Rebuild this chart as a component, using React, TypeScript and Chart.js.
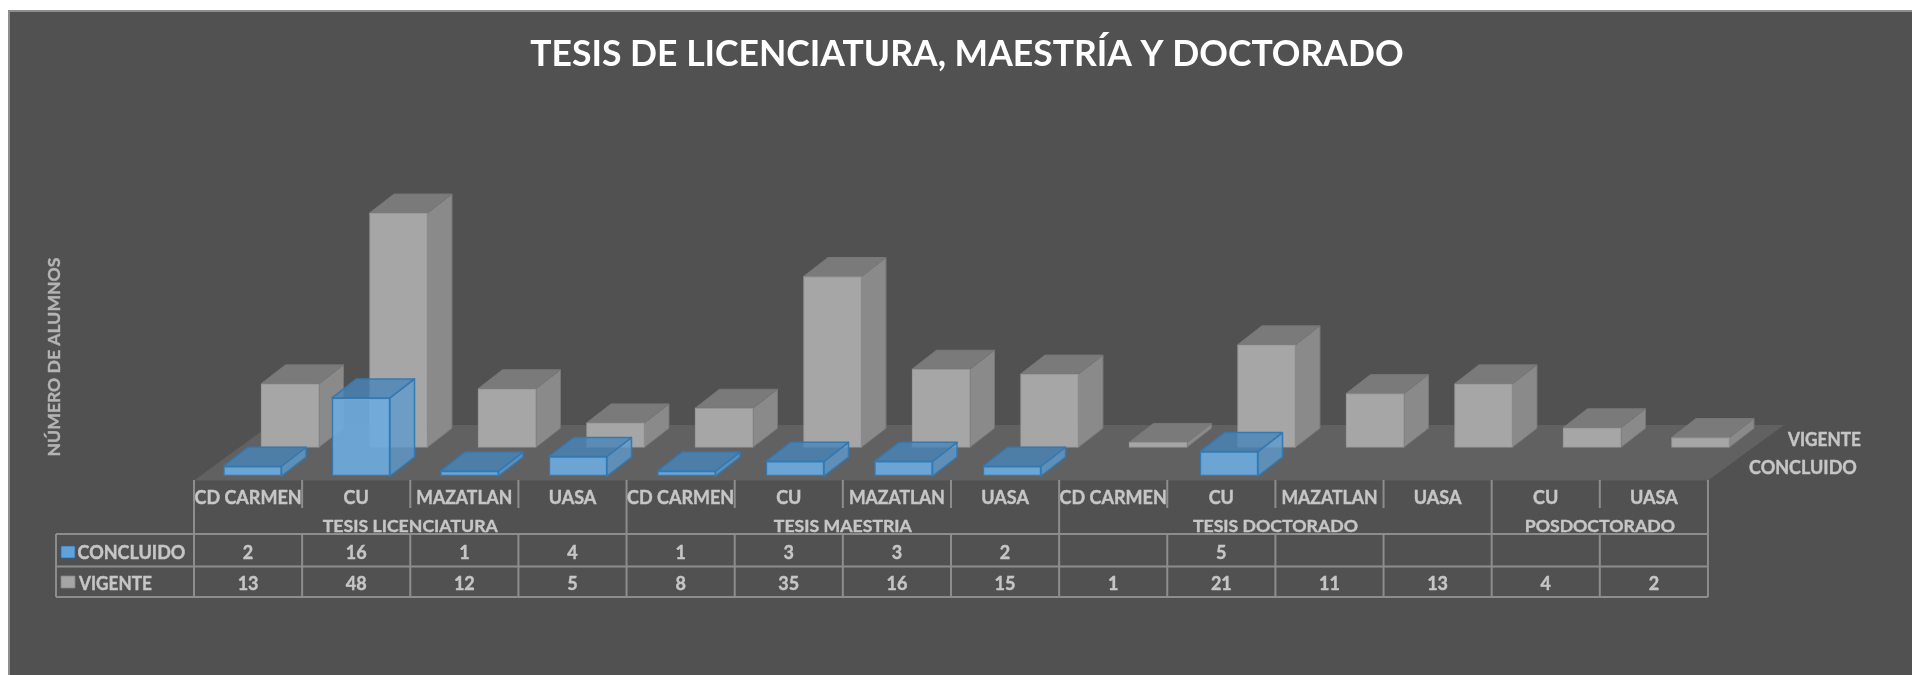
import React, { useEffect, useRef } from "react";
import { Chart, registerables } from "chart.js";

Chart.register(...registerables);

const TITLE = "TESIS DE LICENCIATURA, MAESTRÍA Y DOCTORADO";
const Y_TITLE = "NÚMERO DE ALUMNOS";
const categories = ["CD CARMEN","CU","MAZATLAN","UASA","CD CARMEN","CU","MAZATLAN","UASA","CD CARMEN","CU","MAZATLAN","UASA","CU","UASA"];
const groups = ["TESIS LICENCIATURA","TESIS MAESTRIA","TESIS DOCTORADO","POSDOCTORADO"];
const groupSpans = [4, 4, 4, 2];
const concluido: (number | null)[] = [2,16,1,4,1,3,3,2,null,5,null,null,null,null];
const vigente: (number | null)[] = [13,48,12,5,8,35,16,15,1,21,11,13,4,2];

const FONT = "Lato, 'Open Sans', sans-serif";
const TEXT = "#c6c6c6";
const LINE = "#8d8d8d";
const DX = 24.5;
const DY = 19;
const COL0 = 194;
const COLW = 108.14;
const PX_PER_UNIT = 4.88;
const TITLE_SIZE = 35.5;
const AREA_L = 134, AREA_R = 1800, AREA_B = 476, AREA_T = 33 + TITLE_SIZE * 1.2;
const AREA_H = AREA_B - AREA_T;
const BACK_LIFT = 28.7;
const xRange = (first: number, step: number) => ({
  min: (AREA_L - first) / step,
  max: (AREA_R - first) / step,
});

const faces = [
  { top: "rgba(72,134,186,0.8)", side: "rgba(95,155,205,0.8)", stroke: "#3479b2" },
  { top: "#7a7a7a", side: "#8a8a8a", stroke: "#777777" },
];

const plugin = {
  id: "sheet",
  beforeDraw(chart: any) {
    const c = chart.ctx;
    c.save();
    c.fillStyle = "#ffffff";
    c.fillRect(0, 0, 1912, 675);
    c.fillStyle = "#8e8e8e";
    c.fillRect(8, 10, 1904, 665);
    c.fillStyle = "#515151";
    c.fillRect(10, 12, 1902, 663);
    c.restore();
  },
  beforeDatasetsDraw(chart: any) {
    const c = chart.ctx;
    c.save();
    c.fillStyle = "#616161";
    c.beginPath();
    c.moveTo(194, 480.5);
    c.lineTo(1708, 480.5);
    c.lineTo(1784, 425);
    c.lineTo(270, 425);
    c.closePath();
    c.fill();
    c.restore();
  },
  beforeDatasetDraw(chart: any, args: any) {
    const c = chart.ctx;
    const f = faces[args.index];
    const points = chart.data.datasets[args.index].data;
    c.save();
    c.lineWidth = f === faces[0] ? 1.5 : 1;
    c.strokeStyle = f.stroke;
    c.lineJoin = "round";
    args.meta.data.forEach((el: any, i: number) => {
      if (points[i].y === null) return;
      const l = el.x - el.width / 2, r = el.x + el.width / 2, t = el.y, b = el.base;
      c.fillStyle = f.side;
      c.beginPath();
      c.moveTo(r, t); c.lineTo(r + DX, t - DY); c.lineTo(r + DX, b - DY); c.lineTo(r, b);
      c.closePath(); c.fill(); c.stroke();
      c.fillStyle = f.top;
      c.beginPath();
      c.moveTo(l, t); c.lineTo(l + DX, t - DY); c.lineTo(r + DX, t - DY); c.lineTo(r, t);
      c.closePath(); c.fill(); c.stroke();
    });
    c.restore();
  },
  afterDraw(chart: any) {
    const c = chart.ctx;
    const colX = (i: number) => COL0 + COLW * i;
    const text = (s: string, x: number, y: number, align: CanvasTextAlign = "center", color = TEXT, size = 18, maxW?: number) => {
      c.font = `bold ${size}px ${FONT}`;
      c.textAlign = align;
      c.textBaseline = "middle";
      c.fillStyle = color;
      c.strokeStyle = color;
      c.lineWidth = 0.4;
      if (maxW) {
        c.fillText(s, x, y, maxW);
        c.strokeText(s, x, y, maxW);
      } else {
        c.fillText(s, x, y);
        c.strokeText(s, x, y);
      }
    };
    c.save();
    c.strokeStyle = LINE;
    c.lineWidth = 2;
    const seg = (x1: number, y1: number, x2: number, y2: number) => {
      c.beginPath(); c.moveTo(x1, y1); c.lineTo(x2, y2); c.stroke();
    };
    const T0 = 480, T1 = 508, T2 = 534, T3 = 566.5, T4 = 597;
    const boundaries = new Set<number>([0]);
    let acc = 0;
    for (const s of groupSpans) { acc += s; boundaries.add(acc); }
    for (let i = 0; i <= categories.length; i++) {
      seg(colX(i), T0, colX(i), boundaries.has(i) ? T2 : T1);
      seg(colX(i), T2, colX(i), T4);
    }
    seg(56, T2, colX(14), T2);
    seg(56, T3, colX(14), T3);
    seg(56, T4, colX(14), T4);
    seg(56, T2, 56, T4);

    c.fillStyle = "#3f3f3f";
    c.fillRect(60, 545, 16, 14);
    c.fillRect(60, 575, 16, 14);
    c.lineWidth = 1;
    c.fillStyle = "#62a2da";
    c.strokeStyle = "#3479b2";
    c.fillRect(61, 546, 14, 12); c.strokeRect(61, 546, 14, 12);
    c.fillStyle = "#a5a5a5";
    c.strokeStyle = "#8a8a8a";
    c.fillRect(61, 576, 14, 12); c.strokeRect(61, 576, 14, 12);

    categories.forEach((s, i) => {
      text(s, colX(i + 0.5), 498.5, "center", TEXT, 18, s === "MAZATLAN" ? 96 : 109);
      if (concluido[i] !== null) text(String(concluido[i]), colX(i + 0.5), 553);
      if (vigente[i] !== null) text(String(vigente[i]), colX(i + 0.5), 584);
    });
    let start = 0;
    groups.forEach((g, i) => {
      text(g, colX(start + groupSpans[i] / 2), 526.5, "center", TEXT, 17.7);
      start += groupSpans[i];
    });

    text("CONCLUIDO", 77.5, 553, "left");
    text("VIGENTE", 79, 584, "left", TEXT, 18, 73);
    text("VIGENTE", 1788, 440, "left", TEXT, 18, 73);
    text("CONCLUIDO", 1749, 468, "left");

    c.translate(54, 357);
    c.rotate(-Math.PI / 2);
    text(Y_TITLE, 0, 0, "center", "#b4b4b4", 17.6);
    c.restore();
  },
};

export default function App() {
  const ref = useRef<HTMLCanvasElement>(null);
  useEffect(() => {
    const chart = new Chart(ref.current!, {
      type: "bar",
      data: {
        datasets: [
          {
            label: "CONCLUIDO",
            data: concluido.map((y, x) => ({ x, y })),
            xAxisID: "xFront",
            yAxisID: "yFront",
            grouped: false,
            backgroundColor: "rgba(110,170,222,0.92)",
            borderColor: "#3479b2",
            borderWidth: 1.5,
            borderSkipped: false,
            barThickness: 58,
          },
          {
            label: "VIGENTE",
            data: vigente.map((y, x) => ({ x, y })),
            xAxisID: "xBack",
            yAxisID: "yBack",
            grouped: false,
            backgroundColor: "#a6a6a6",
            borderColor: "#959595",
            borderWidth: 1,
            borderSkipped: false,
            barThickness: 58,
          },
        ] as any,
      },
      options: {
        animation: false,
        responsive: false,
        devicePixelRatio: 1,
        layout: { padding: { left: AREA_L, right: 1912 - AREA_R, top: 33, bottom: 675 - AREA_B } },
        plugins: {
          legend: { display: false },
          tooltip: { enabled: false },
          title: {
            display: true,
            text: TITLE,
            color: "#ffffff",
            padding: 0,
            font: { family: FONT, size: TITLE_SIZE, weight: "bold", lineHeight: 1.2 },
          },
        },
        scales: {
          xFront: { type: "linear", axis: "x", display: false, offset: false, bounds: "data", ...xRange(252.5, 108.5) },
          xBack: { type: "linear", axis: "x", display: false, offset: false, bounds: "data", ...xRange(290, 108.5) },
          yFront: { type: "linear", axis: "y", display: false, bounds: "data", min: 0, max: AREA_H / PX_PER_UNIT },
          yBack: {
            type: "linear", axis: "y", display: false, bounds: "data",
            min: -BACK_LIFT / PX_PER_UNIT,
            max: (AREA_H - BACK_LIFT) / PX_PER_UNIT,
          },
        },
      } as any,
      plugins: [plugin],
    });
    return () => chart.destroy();
  }, []);
  return (
    <div style={{ position: "fixed", inset: 0, overflow: "hidden", background: "#fff" }}>
      <canvas ref={ref} width={1912} height={675} style={{ display: "block", width: 1912, height: 675, filter: "blur(0.6px)" }} />
    </div>
  );
}
